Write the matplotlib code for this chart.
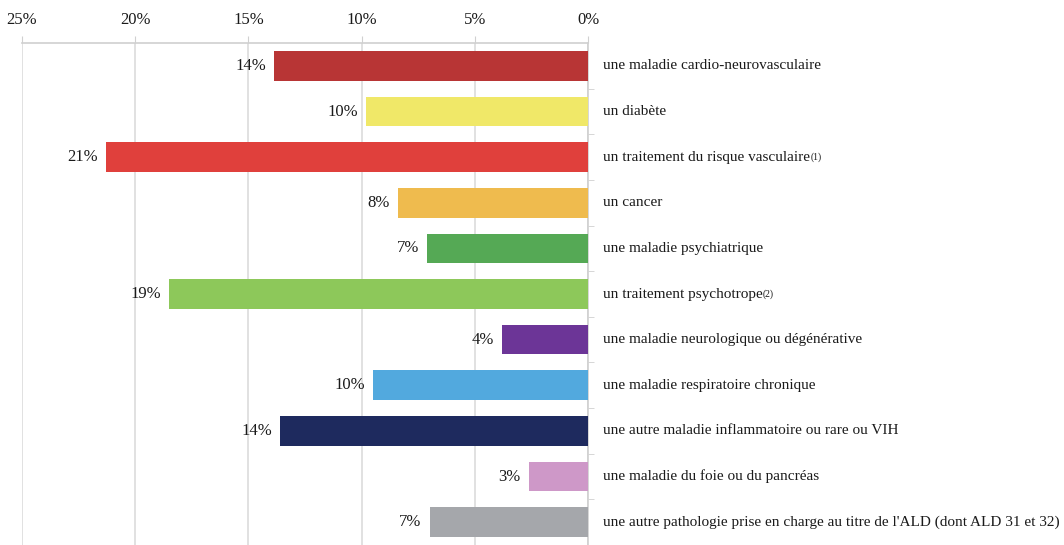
import matplotlib.pyplot as plt
import numpy as np

plt.rcParams['font.family'] = ['Liberation Serif', 'DejaVu Serif']

categories = [
    "une maladie cardio-neurovasculaire",
    "un diabète",
    "un traitement du risque vasculaire",
    "un cancer",
    "une maladie psychiatrique",
    "un traitement psychotrope",
    "une maladie neurologique ou dégénérative",
    "une maladie respiratoire chronique",
    "une autre maladie inflammatoire ou rare ou VIH",
    "une maladie du foie ou du pancréas",
    "une autre pathologie prise en charge au titre de l'ALD (dont ALD 31 et 32)",
]
notes = ["", "", "(1)", "", "", "(2)", "", "", "", "", ""]
values = [13.85, 9.8, 21.3, 8.4, 7.1, 18.5, 3.8, 9.5, 13.6, 2.6, 7.0]
value_labels = ["14%", "10%", "21%", "8%", "7%", "19%", "4%", "10%", "14%", "3%", "7%"]
colors = ["#B83535", "#F0E868", "#E0403C", "#EFBB4E", "#55A955", "#8DC85A",
          "#6C3597", "#52A9DE", "#1E2A5E", "#CE98C8", "#A5A7AB"]
x_ticks = [25, 20, 15, 10, 5, 0]

fig = plt.figure(figsize=(10.64, 5.45), dpi=100)
ax = fig.add_axes([0.0207, 0.0, 0.532, 0.921])

ypos = np.arange(len(categories))
ax.barh(ypos, values, height=0.65, color=colors, zorder=3)

ax.set_xlim(25, 0)
ax.set_ylim(10.34, -0.5)
ax.xaxis.tick_top()
ax.set_xticks(x_ticks)
ax.set_xticklabels([f"{t}%" for t in x_ticks], fontsize=12, color="#1a1a1a")
ax.tick_params(axis='x', length=5, color="#d0d0d0", pad=6)
ax.grid(axis='x', color="#dcdcdc", linewidth=1.2, zorder=0)
ax.set_yticks([])
ax.set_yticks(np.arange(len(categories)) + 0.5, minor=True)
ax.tick_params(axis='y', which='minor', length=4, color="#d0d0d0", right=True, left=False)

for s in ["left", "bottom"]:
    ax.spines[s].set_visible(False)
for s in ["top", "right"]:
    ax.spines[s].set_color("#d0d0d0")
    ax.spines[s].set_linewidth(1.2)

# value labels to the left of each bar
for y, v, lab in zip(ypos, values, value_labels):
    ax.annotate(lab, (v, y), xytext=(-6, 0), textcoords="offset points",
                ha="right", va="center", fontsize=12, color="#1a1a1a")

# category labels on the right of the axis
texts = []
for y, cat in zip(ypos, categories):
    t = ax.annotate(cat, (0, y), xytext=(11, 0), textcoords="offset points",
                    ha="left", va="center", fontsize=11, color="#1a1a1a",
                    annotation_clip=False)
    texts.append(t)

fig.canvas.draw()
renderer = fig.canvas.get_renderer()
for t, note in zip(texts, notes):
    if note:
        bb = t.get_window_extent(renderer)
        fig.text(bb.x1 / fig.bbox.width, (bb.y0 + 2) / fig.bbox.height, note,
                 fontsize=7, color="#1a1a1a", ha="left", va="bottom")

fig.savefig("out.png", dpi=100)
